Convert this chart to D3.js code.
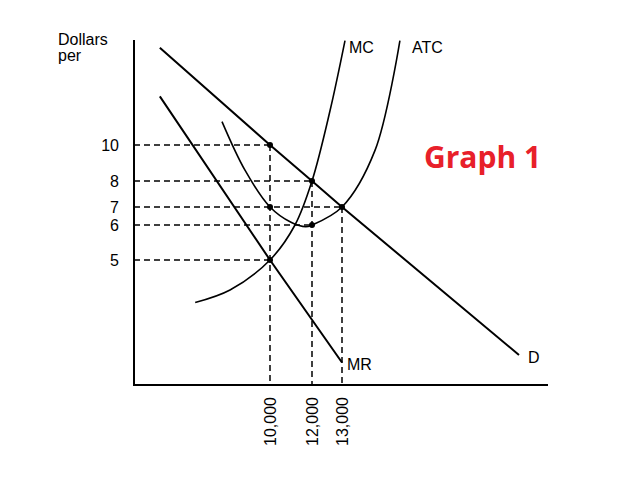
<!DOCTYPE html><html><head><script src="https://cdn.jsdelivr.net/npm/d3@7"></script>
<style>body{margin:0;background:#fff}</style></head><body><svg id="c" width="627" height="482"></svg>
<script>
const qTicks=[10000,12000,13000];
const qLabels=["10,000","12,000","13,000"];
const pTicks=[10,8,7,6,5];
const demand=[[1900,15.4],[10000,10],[12000,8],[13000,7],[18900,1.2]];
const mr=[[1900,12.7],[10000,5],[13000,0.9]];
const mc=[[4500,3.3],[7060,3.8],[10000,5],[11190,6],[12000,8],[12600,11.9],[13100,15.8]];
const atc=[[6470,11.3],[8160,8.6],[10000,7],[11000,6.15],[11700,5.95],[12000,6],[13000,7],[14100,9.7],[14930,15.8]];
const dots=[[10000,10],[12000,8],[10000,7],[12000,6],[13000,7],[10000,5]];
const guides=[[10000,10],[12000,8],[13000,7],[12000,6],[10000,5]];

const svg=d3.select("#c");
const x=d3.scaleLinear().domain([0,10000,12000,13000]).range([134,270,312,342]);
const y=d3.scaleLinear().domain([0,5,6,7,8,10]).range([385,260,225,207,181,145]);
const f="Arial, Liberation Sans, sans-serif";
svg.append("line").attr("x1",134).attr("x2",134).attr("y1",40).attr("y2",385).attr("stroke","#000").attr("stroke-width",2);
svg.append("line").attr("x1",133).attr("x2",548).attr("y1",385).attr("y2",385).attr("stroke","#000").attr("stroke-width",2);
guides.forEach(([q,p])=>{
 svg.append("line").attr("x1",134).attr("x2",x(q)).attr("y1",y(p)).attr("y2",y(p)).attr("stroke","#000").attr("stroke-width",1.5).attr("stroke-dasharray","6,4");
});
[[10000,10],[12000,8],[13000,7]].forEach(([q,p])=>{
 svg.append("line").attr("x1",x(q)).attr("x2",x(q)).attr("y1",y(p)).attr("y2",385).attr("stroke","#000").attr("stroke-width",1.5).attr("stroke-dasharray","6,4");
});
const line=d3.line().x(d=>x(d[0])).y(d=>y(d[1]));
svg.append("path").attr("d",line(demand)).attr("fill","none").attr("stroke","#000").attr("stroke-width",2);
svg.append("path").attr("d",line(mr)).attr("fill","none").attr("stroke","#000").attr("stroke-width",2);
const cl=line.curve(d3.curveCatmullRom);
svg.append("path").attr("d",cl(mc)).attr("fill","none").attr("stroke","#000").attr("stroke-width",1.6);
svg.append("path").attr("d",cl(atc)).attr("fill","none").attr("stroke","#000").attr("stroke-width",1.6);
dots.forEach(([q,p])=>svg.append("circle").attr("cx",x(q)).attr("cy",y(p)).attr("r",3).attr("fill","#000"));
pTicks.forEach(p=>svg.append("text").attr("x",119).attr("y",y(p)+6).attr("text-anchor","end").attr("font-family",f).attr("font-size",16).text(p));
qTicks.forEach((q,i)=>svg.append("text").attr("transform",`translate(${x(q)+6},397) rotate(-90)`).attr("text-anchor","end").attr("font-family",f).attr("font-size",16).text(qLabels[i]));
const t=(s,a,b,o={})=>svg.append("text").attr("x",a).attr("y",b).attr("font-family",o.font||f).attr("font-size",o.size||16).attr("fill",o.fill||"#000").attr("font-weight",o.w||"normal").text(s);
t("Dollars",58,45);t("per",58,61);t("MC",349,53);t("ATC",412,53);t("MR",347,370);t("D",528,363);
t("Graph 1",424,168,{size:30,fill:"#e8202a",w:"bold",font:"Open Sans, sans-serif"});
</script></body></html>
